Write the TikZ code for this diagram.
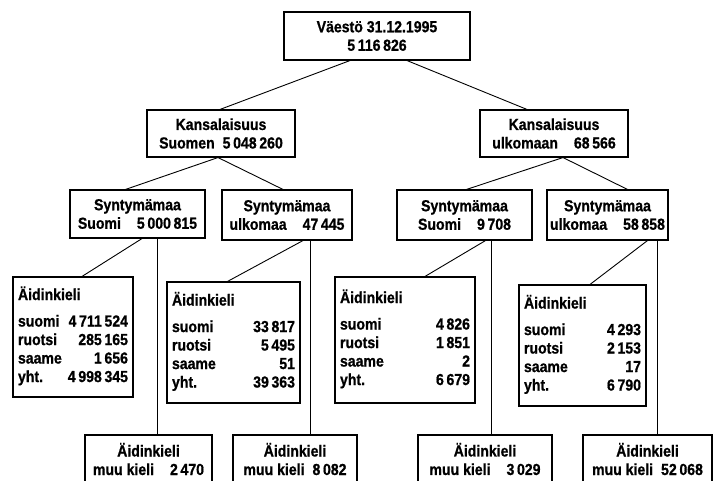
\documentclass[tikz,border=0pt]{standalone}
\usepackage{fontspec}
\setmainfont{Liberation Sans}[FakeStretch=0.88, BoldFeatures={FakeBold=0.8}]
\usepackage{tikz}

\newcommand{\kielet}[4]{Äidinkieli\\[8pt]
  \begin{tabular*}{\hsize}[t]{@{}l@{\extracolsep{\fill}}r@{}}
    suomi & #1\\ ruotsi & #2\\ saame & #3\\ yht. & #4
  \end{tabular*}}

\begin{document}
\begin{tikzpicture}[x=1pt,y=-1pt,line width=0.9pt]
    \tikzstyle{every node}=[font=\fontsize{16}{18.5}\selectfont\bfseries]
    \tikzstyle{hbox}=[draw, line width=1.1pt, align=center, inner sep=2pt]
    \tikzstyle{kbox}=[draw, line width=1.1pt, align=left, inner xsep=5pt]
    \useasboundingbox (0,0) rectangle (719,481);
    \clip (0,0) rectangle (719,481);
    \node[hbox, minimum width=186pt, minimum height=48pt] (vaesto) at (377,36) {Väestö 31.12.1995\\5\,116\,826};
    \node[hbox, minimum width=148pt, minimum height=47pt] (kansS) at (221,133.5) {Kansalaisuus\\Suomen\enspace 5\,048\,260};
    \node[hbox, minimum width=148pt, minimum height=47pt] (kansU) at (554,133.5) {Kansalaisuus\\ulkomaan\quad 68\,566};
    \node[hbox, minimum width=135pt, minimum height=48pt] (syntSS) at (137.5,214) {Syntymämaa\\Suomi\quad 5\,000\,815};
    \node[hbox, minimum width=130pt, minimum height=50pt] (syntSU) at (287,215) {Syntymämaa\\ulkomaa\quad 47\,445};
    \node[hbox, minimum width=135pt, minimum height=50pt] (syntUS) at (464.5,215) {Syntymämaa\\Suomi\quad 9\,708};
    \node[hbox, minimum width=121pt, minimum height=50pt] (syntUU) at (607.5,215) {Syntymämaa\\ulkomaa\quad 58\,858};
    \node[kbox, text width=110pt, minimum height=120pt] (aid1) at (73,337) {\kielet{4\,711\,524}{285\,165}{1\,656}{4\,998\,345}};
    \node[kbox, text width=123pt, minimum height=121pt] (aid2) at (233.5,342.5) {\kielet{33\,817}{5\,495}{51}{39\,363}};
    \node[kbox, text width=130pt, minimum height=126pt] (aid3) at (405,340) {\kielet{4\,826}{1\,851}{2}{6\,679}};
    \node[kbox, text width=117pt, minimum height=121pt] (aid4) at (582.5,345.5) {\kielet{4\,293}{2\,153}{17}{6\,790}};
    \node[hbox, minimum width=127pt, minimum height=48pt] (muu1) at (148.5,459) {Äidinkieli\\muu kieli\quad 2\,470};
    \node[hbox, minimum width=124pt, minimum height=48pt] (muu2) at (295,459) {Äidinkieli\\muu kieli\enspace 8\,082};
    \node[hbox, minimum width=134pt, minimum height=48pt] (muu3) at (485,459) {Äidinkieli\\muu kieli\quad 3\,029};
    \node[hbox, minimum width=129pt, minimum height=48pt] (muu4) at (647.5,459) {Äidinkieli\\muu kieli\enspace 52\,068};
    \draw ([xshift=-27pt]vaesto.south) -- ([xshift=-1pt]kansS.north);
    \draw ([xshift=30pt]vaesto.south) -- ([xshift=-27pt]kansU.north);
    \draw ([xshift=-12pt]syntSS.north) -- ([xshift=-3pt]kansS.south) -- ([xshift=-4pt]syntSU.north);
    \draw ([xshift=2pt]syntUS.north) -- ([xshift=9pt]kansU.south) -- ([xshift=20pt]syntUU.north);
    \draw ([xshift=4.5pt]syntSS.south) -- ([xshift=9pt]aid1.north);
    \draw ([xshift=19.5pt]syntSS.south) -- ([xshift=8.5pt]muu1.north);
    \draw ([xshift=16pt]syntSU.south) -- ([xshift=-6pt]aid2.north);
    \draw ([xshift=23pt]syntSU.south) -- ([xshift=15pt]muu2.north);
    \draw ([xshift=21pt]syntUS.south) -- ([xshift=20pt]aid3.north);
    \draw ([xshift=26.5pt]syntUS.south) -- ([xshift=6pt]muu3.north);
    \draw ([xshift=40pt]syntUU.south) -- ([xshift=7.5pt]aid4.north);
    \draw ([xshift=49.5pt]syntUU.south) -- ([xshift=9.5pt]muu4.north);
\end{tikzpicture}
\end{document}
